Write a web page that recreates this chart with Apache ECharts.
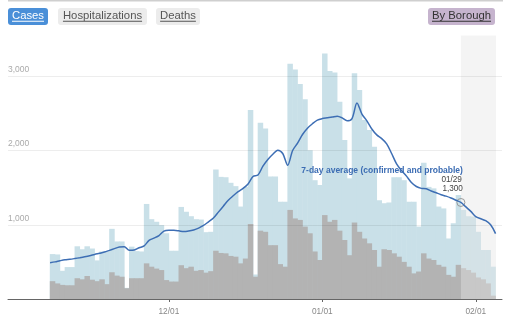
<!DOCTYPE html>
<html><head><meta charset="utf-8">
<script src="https://cdn.jsdelivr.net/npm/echarts@6/dist/echarts.min.js"></script>
<style>html,body{margin:0;padding:0;background:#fff}#c{width:512px;height:322px}</style>
</head><body><div id="c"></div>
<script>
// Day 0 = 11/07; one bar per day
const totalCases = [605,600,380,430,430,710,670,710,680,520,640,640,945,775,775,150,705,645,640,1280,
1075,1040,995,885,650,650,1240,1175,1115,1075,1070,900,905,1745,1645,1640,1565,1520,1245,1510,
2545,330,2375,2295,1650,1650,1310,1310,3170,3090,2895,2690,2005,1600,1535,3305,3070,3050,2655,2140,
1625,3040,2815,2410,2275,2050,1330,1290,1300,1640,1640,1600,1310,1310,975,1835,1510,1490,1245,1220,
815,1020,1400,1200,1115,1110,905,660,660,435];
const grayCases = [240,210,190,185,185,280,265,310,260,240,265,200,360,315,300,145,280,280,280,480,
435,410,390,255,235,235,455,415,435,380,390,355,375,650,620,615,580,570,480,545,
1010,300,920,905,725,725,470,435,1200,1085,1065,975,885,640,525,1130,1040,1065,920,795,
590,1030,905,815,750,660,435,670,660,615,570,500,435,345,370,615,545,525,460,435,
325,300,460,415,390,355,290,265,210,45];
const avg7 = [489,500,515,528,535,545,556,568,582,600,615,632,655,678,700,705,655,660,690,715,
790,820,855,915,925,925,918,908,915,930,955,990,1040,1090,1170,1250,1330,1390,1445,1490,
1550,1650,1670,1790,1880,1950,2005,1960,1800,2000,2100,2215,2300,2360,2410,2430,2440,2450,2462,2440,
2400,2430,2640,2490,2400,2290,2210,2160,2090,1960,1820,1730,1655,1570,1515,1490,1485,1455,1430,1405,
1385,1360,1330,1300,1240,1180,1110,1080,1055,1000,880];
const tickDays = [24,55,86];
const tickLabels = ['12/01','01/01','02/01'];
const incompleteFrom = 83;
const incompleteTo = 90.1;
const annotDay = 83, annotValue = 1300;
const annotTitle = '7-day average (confirmed and probable)';
const annotDate = '01/29', annotLabel = '1,300';
const buttonLabels = ['Cases','Hospitalizations','Deaths','By Borough'];

const FONT = 'Liberation Sans, Arial, Helvetica, sans-serif';
const chart = echarts.init(document.getElementById('c'), null, {renderer:'canvas'});
const barBlue = totalCases.map((v,i)=>[i+0.5,v]);
const barGray = grayCases.map((v,i)=>[i+0.5,v]);
const lineData = avg7.map((v,i)=>[i,v]);

const option = {
  animation:false,
  textStyle:{fontFamily:FONT},
  grid:{left:8,right:10,top:2,bottom:23,containLabel:false},
  xAxis:{type:'value',min:-8.5,max:91.3,z:4,
    axisLine:{show:true,lineStyle:{color:'#666',width:1}},
    axisTick:{show:true,customValues:tickDays,length:3,lineStyle:{color:'#666'}},
    axisLabel:{customValues:tickDays,formatter:v=>{const k=tickDays.indexOf(v);return k>=0?tickLabels[k]:'';},
      color:'#888',fontSize:8.3,margin:9,fontFamily:FONT},
    splitLine:{show:false}},
  yAxis:{type:'value',min:0,max:4000,interval:1000,z:4,
    axisLine:{show:false},axisTick:{show:false},
    axisLabel:{inside:true,margin:0,verticalAlign:'bottom',showMinLabel:false,showMaxLabel:false,
      formatter:v=>v.toLocaleString('en-US'),color:'#aaa',fontSize:8.5,padding:[0,0,2,0],fontFamily:FONT},
    splitLine:{show:true,showMinLine:false,showMaxLine:false,lineStyle:{color:'rgba(0,0,0,0.07)',width:1}}},
  series:[
    {type:'bar',data:barBlue,barWidth:5.5,barGap:'-100%',itemStyle:{color:'#c9e0e8'},z:2},
    {type:'bar',data:barGray,barWidth:5.5,barGap:'-100%',itemStyle:{color:'#b3b3b3'},z:2},
    {type:'custom',clip:false,z:3,data:[[incompleteFrom,incompleteTo,3550]],
      renderItem:(p,api)=>{const a=api.coord([api.value(0),api.value(2)]);const b=api.coord([api.value(1),0]);
        return {type:'rect',shape:{x:a[0],y:a[1],width:b[0]-a[0],height:b[1]-a[1]},style:{fill:'rgba(228,228,228,0.42)'}};}},
    {type:'line',data:lineData,smooth:0.3,showSymbol:false,z:10,lineStyle:{color:'#3d6eb4',width:1.5},
      markPoint:{symbol:'circle',symbolSize:8,silent:true,
        itemStyle:{color:'rgba(255,255,255,0)',borderColor:'#999',borderWidth:1},
        label:{show:false},data:[{coord:[annotDay,annotValue]}]}}
  ]
};
chart.setOption(option);

const p = chart.convertToPixel({gridIndex:0},[annotDay,annotValue]);
const ctx = document.createElement('canvas').getContext('2d');
ctx.font = '11.3px ' + FONT;
const btnStyle = [
  {x:8,w:40,fill:'#4a8fd8',color:'#fff'},
  {x:58,w:89,fill:'#ececec',color:'#555'},
  {x:156,w:44,fill:'#ececec',color:'#555'},
  {x:428,w:67,fill:'#c6b4ce',color:'#333'}
];
const g = [{type:'rect',shape:{x:8,y:0,width:495,height:1.5},style:{fill:'#cfcfcf'},z:100}];
buttonLabels.forEach((t,i)=>{
  const s=btnStyle[i]; const cx=s.x+s.w/2; const tw=ctx.measureText(t).width;
  g.push({type:'rect',shape:{x:s.x,y:8,width:s.w,height:17,r:3},style:{fill:s.fill},z:100});
  g.push({type:'text',x:cx,y:16.3,style:{text:t,fill:s.color,font:'11.3px '+FONT,align:'center',verticalAlign:'middle'},z:101});
  g.push({type:'rect',shape:{x:cx-tw/2,y:20.8,width:tw,height:1},style:{fill:s.color},z:101});
});
g.push({type:'text',x:p[0]+2,y:p[1]-32,style:{text:annotTitle,fill:'#3b6cb3',font:'bold 8.5px '+FONT,align:'right',verticalAlign:'middle'},z:100});
g.push({type:'text',x:p[0]+1,y:p[1]-23,style:{text:annotDate,fill:'#444',font:'8.2px '+FONT,align:'right',verticalAlign:'middle'},z:100});
g.push({type:'text',x:p[0]+2,y:p[1]-14,style:{text:annotLabel,fill:'#444',font:'8.2px '+FONT,align:'right',verticalAlign:'middle'},z:100});
chart.setOption({graphic:g});
</script></body></html>
